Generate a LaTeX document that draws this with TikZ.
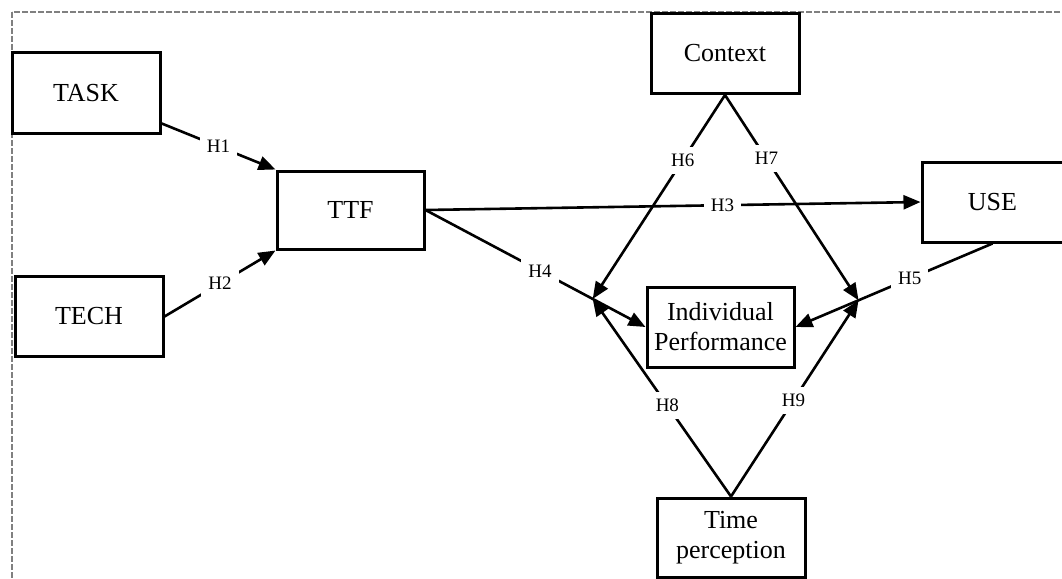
\documentclass[tikz,border=0pt]{standalone}
\usepackage{fontspec}
\setmainfont{Liberation Serif}
\usetikzlibrary{arrows.meta}
\begin{document}
\begin{tikzpicture}[x=1pt,y=-1pt,
    box/.style={draw,line width=3pt,inner sep=0pt,align=center,
      minimum width=148pt,minimum height=80pt,font=\fontsize{26}{30}\selectfont},
    hyp/.style={fill=white,inner sep=7pt,font=\fontsize{19}{22}\selectfont},
    link/.style={line width=2.6pt,-{Triangle[length=17pt,width=14pt]}},
    frame/.style={draw=gray,line width=1.6pt,dash pattern=on 6pt off 2pt}]
  \useasboundingbox (0,0) rectangle (1062,578);
  \clip (0,0) rectangle (1062,578);
  \draw[frame] (12,12) rectangle (1100,620);
  \draw
    (86,93) node[box] (task){TASK}
    (89,316.5) node[box] (tech){TECH}
    (350.5,210) node[box,minimum width=147pt,minimum height=78pt] (ttf){TTF}
    (725,53.5) node[box] (context){Context}
    (992.5,202) node[box,minimum width=141pt] (use){USE}
    (720.5,327) node[box,minimum width=147pt] (ip){Individual\\Performance}
    (731,537.5) node[box,minimum height=79pt] (time){Time\\perception};
  \begin{scope}[link]
    \draw (task) -- node[hyp]{H1} (ttf.north west);
    \draw (tech.east) -- node[hyp]{H2} (ttf.south west);
    \draw (ttf.east) -- node[hyp,pos=0.6]{H3} (use.west);
    \draw (ttf.east) -- node[hyp,pos=0.52]{H4} coordinate[pos=0.76] (m4) (ip.west);
    \draw (use.south) -- node[hyp,pos=0.42]{H5} coordinate[pos=0.68] (m5) (ip.east);
    \draw (context.south) -- node[hyp,pos=0.32]{H6} (m4);
    \draw (context.south) -- node[hyp,pos=0.31]{H7} (m5);
    \draw (time.north) -- node[hyp,pos=0.46]{H8} (m4);
    \draw (time.north) -- node[hyp,pos=0.49]{H9} (m5);
  \end{scope}
\end{tikzpicture}
\end{document}
